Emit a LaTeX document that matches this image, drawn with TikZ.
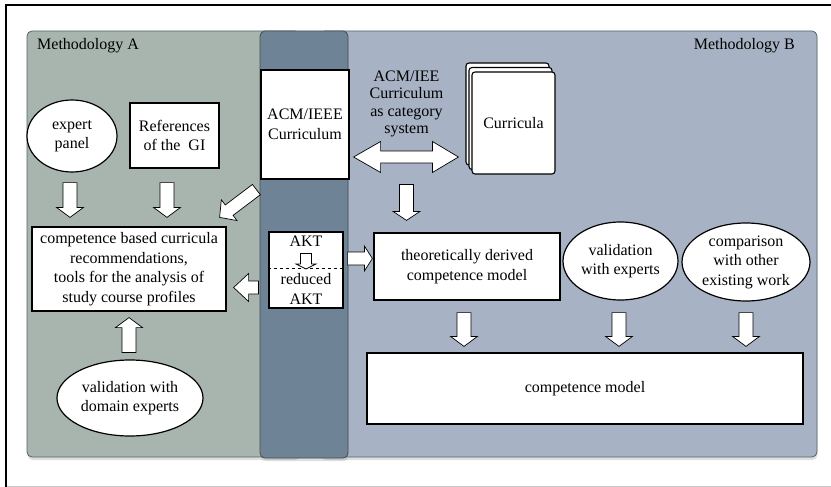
\documentclass[tikz,border=0pt]{standalone}
\usepackage{fontspec}
\setmainfont{Liberation Serif}
\usetikzlibrary{calc,shapes.geometric,shadows}
\definecolor{panelA}{RGB}{168,181,175}
\definecolor{panelM}{RGB}{110,131,150}
\definecolor{panelB}{RGB}{167,179,196}
\definecolor{panelEdge}{RGB}{88,98,104}
\definecolor{frameGray}{RGB}{200,200,200}
\newcommand\blockarrow[5]{%
  \coordinate (ba-s) at (#4);
  \coordinate (ba-t) at (#5);
  \coordinate (ba-h) at ($(ba-t)!#3!(ba-s)$);
  \draw[barrow] ($(ba-s)!#1!90:(ba-t)$) -- ($(ba-h)!#1!90:(ba-t)$) -- ($(ba-h)!#2!90:(ba-t)$) -- (ba-t)
    -- ($(ba-h)!#2!-90:(ba-t)$) -- ($(ba-h)!#1!-90:(ba-t)$) -- ($(ba-s)!#1!-90:(ba-t)$) -- cycle;
}
\tikzset{
  panel/.style={rounded corners=5pt, draw=panelEdge, line width=0.8pt,
    drop shadow={shadow xshift=0.5pt, shadow yshift=-3pt, opacity=0.25}},
  box/.style={draw=black, fill=white, line width=1.2pt, inner sep=0pt, align=center,
    font=\fontsize{16}{19.5}\selectfont},
  ell/.style={ellipse, draw=black, fill=white, line width=1.2pt, inner sep=0pt, align=center,
    font=\fontsize{16}{19.5}\selectfont},
  lbl/.style={inner sep=0pt, align=center, font=\fontsize{16}{19.5}\selectfont},
  barrow/.style={fill=white, draw=black, line width=0.7pt, line join=miter},
  page/.style={draw=black, fill=white, line width=1.1pt, rounded corners=3pt,
    minimum width=83pt, minimum height=102pt, inner sep=0pt,
    font=\fontsize{16}{19.5}\selectfont}
}
\begin{document}
\begin{tikzpicture}[x=1pt, y=-1pt]
\useasboundingbox (0,0) rectangle (831,487);
\fill[white] (0,0) rectangle (831,487);
% frame
\draw[frameGray, line width=1pt] (5,486) -- (831,486);
\draw[black, line width=2pt] (6,5) -- (831,5);
\draw[black, line width=2pt] (6,4) -- (6,487);
% panels
\filldraw[panel, fill=panelA] (27,31) rectangle (300,457);
\filldraw[panel, fill=panelB] (320,31) rectangle (817,457);
\filldraw[panel, fill=panelM, draw=panelEdge!80!black] (260,31) rectangle (348,458);
\node[lbl, anchor=west] (mA) at (37,46) {Methodology A};
\node[lbl, anchor=east] (mB) at (795,46) {Methodology B};
% left side
\node[box, minimum width=88pt, minimum height=109pt] (acm) at (305,124.5) {ACM/IEEE\\Curriculum};
\node[ell, minimum width=90pt, minimum height=72pt] (ep) at (72,136) {expert\\panel};
\node[box, minimum width=89pt, minimum height=65pt] (refs) at (174.5,135.5) {References\\of the~ GI};
\node[box, minimum width=194pt, minimum height=84pt] (comp) at (129,269)
  {competence based curricula\\recommendations,\\tools for the analysis of\\study course profiles};
\node[ell, minimum width=146pt, minimum height=76pt] (vde) at (130,398) {validation with\\domain experts};
% middle
\node[box, minimum width=74pt, minimum height=76pt] (akt) at (306,270) {};
\node[lbl] (akt1) at (306,241) {AKT};
\node[lbl] (akt2) at (306,289) {reduced\\AKT};
\coordinate (dl) at (akt.west |- 0,268);
\coordinate (dr) at (akt.east |- 0,268);
\draw[dashed, line width=0.7pt] (dl) -- (dr);
% right side
\node[lbl, font=\fontsize{16}{17.5}\selectfont] (cat) at (406.5,104) {ACM/IEE\\Curriculum\\as category\\system};
\node[page] (cur3) at (507.5,114) {};
\node[page] (cur2) at (510.5,118.5) {};
\node[page] (cur) at (513.5,123) {Curricula};
\node[box, minimum width=186pt, minimum height=67pt] (theo) at (467,266.5) {theoretically derived\\competence model};
\node[ell, minimum width=115pt, minimum height=78pt] (ve) at (620.5,261) {validation\\with experts};
\node[ell, minimum width=128pt, minimum height=78pt] (cmp) at (746,262) {comparison\\with other\\existing work};
\node[box, minimum width=436pt, minimum height=71pt] (cm) at (585,388.5) {competence model};
% arrows
\blockarrow{7pt}{13.5pt}{10pt}{$(ep.south)+(-2,10)$}{$(comp.north -| ep.south)+(-2,-9)$}
\blockarrow{7pt}{13.5pt}{10pt}{$(refs.south)+(-7.5,14)$}{$(comp.north -| refs.south)+(-7.5,-9)$}
\blockarrow{6.5pt}{13pt}{12pt}{$(acm.south west)+(-4,10)$}{$(comp.north east)+(-7,-9)$}
\blockarrow{7pt}{13.5pt}{10pt}{$(vde.north)+(-1,-7)$}{$(comp.south)+(0,6)$}
\blockarrow{6.5pt}{14pt}{15pt}{$(akt.west)+(-10,17.5)$}{$(comp.east)+(7,18.5)$}
\blockarrow{6.5pt}{12.5pt}{8pt}{$(akt.east)+(4,-11.5)$}{$(theo.west)+(-1,-8)$}
\blockarrow{5.5pt}{10pt}{5pt}{$(akt1.south)+(0,7)$}{$(dl -| akt1.south)+(0,1)$}
\blockarrow{7pt}{13.5pt}{9pt}{$(theo.north -| cat.south)+(0,-48)$}{$(theo.north -| cat.south)+(0,-12)$}
\blockarrow{7pt}{13.5pt}{10pt}{$(theo.south)+(-3,12)$}{$(cm.north -| theo.south)+(-3,-6)$}
\blockarrow{7pt}{13.5pt}{10pt}{$(ve.south)+(-1.5,12)$}{$(cm.north -| ve.south)+(-1.5,-6)$}
\blockarrow{7pt}{13.5pt}{10pt}{$(cmp.south)+(0,11)$}{$(cm.north -| cmp.south)+(0,-6)$}
% double arrow
\coordinate (dL) at ($(acm.east)+(4,32.5)$);
\coordinate (dR) at ($(cur3.west |- dL)+(-7,0)$);
\draw[barrow] (dL) -- ++(27,-15.5) -- ++(0,9.5) -- ($(dR)+(-26,-6)$) -- ++(0,-9.5) -- (dR)
  -- ++(-26,15.5) -- ++(0,-9.5) -- ($(dL)+(27,6)$) -- ++(0,9.5) -- cycle;
\end{tikzpicture}
\end{document}
